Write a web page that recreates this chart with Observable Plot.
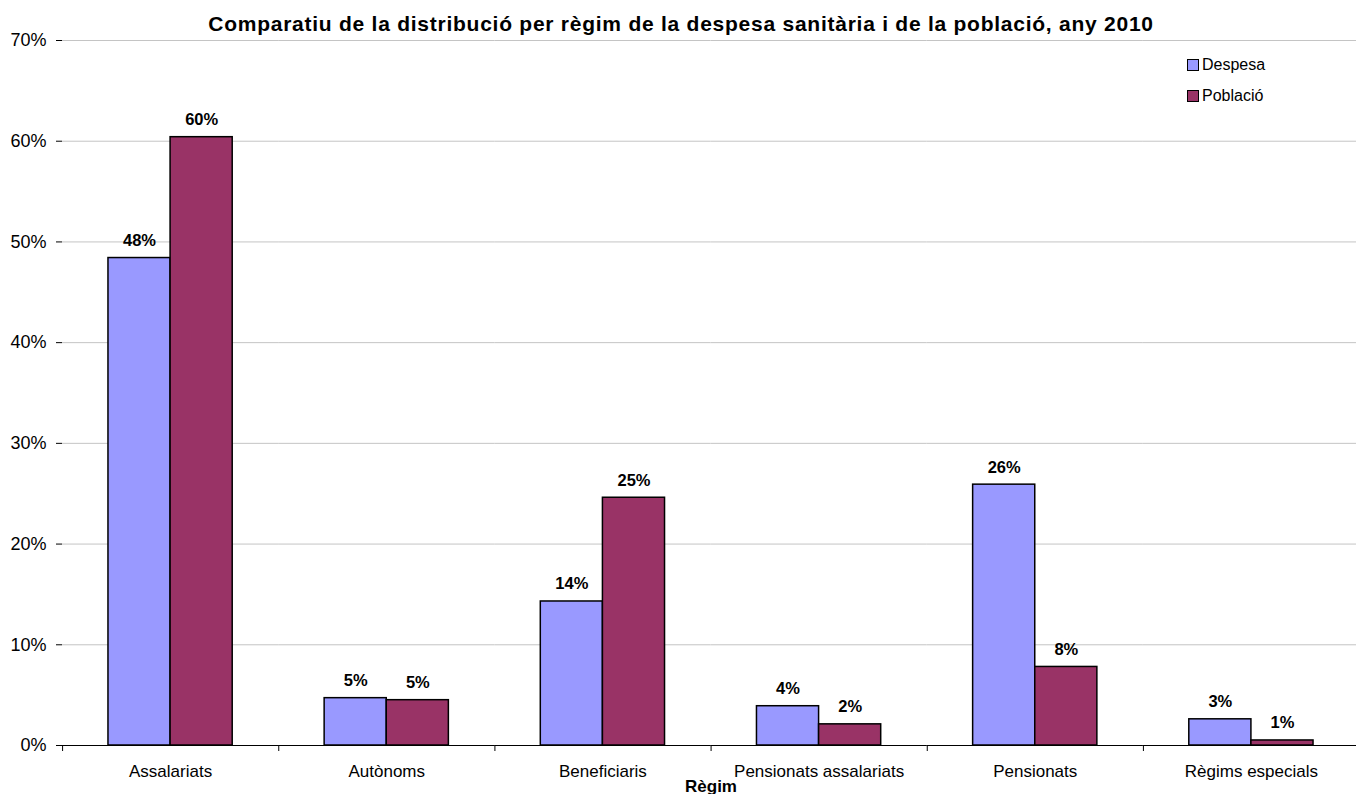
<!DOCTYPE html>
<html>
<head>
<meta charset="utf-8">
<script src="https://cdn.jsdelivr.net/npm/d3@7"></script>
<script src="https://cdn.jsdelivr.net/npm/@observablehq/plot@0.6"></script>
<style>
  html, body { margin: 0; padding: 0; background: #fff; }
  #wrap { position: relative; width: 1356px; height: 794px; overflow: hidden; font-family: "Liberation Sans", Arial, sans-serif; color: #000; }
  #title { position: absolute; left: 0; top: 13px; width: 1362px; text-align: center; font-weight: bold; font-size: 21px; line-height: 21px; letter-spacing: 0.75px; white-space: nowrap; }
  .leg { position: absolute; left: 1187px; font-size: 16px; line-height: 16px; white-space: nowrap; }
  .sw { position: absolute; left: 0; width: 10px; height: 10px; border: 1.5px solid #000; }
  .lt { position: absolute; left: 15px; top: 0; }
  #wrap svg { position: absolute; left: 0; top: 0; }
  svg [aria-label="fx-axis label"] { font-weight: bold; }
</style>
</head>
<body>
<div id="wrap">
  <div id="title">Comparatiu de la distribució per règim de la despesa sanitària i de la població, any 2010</div>
  <div id="legend"></div>
</div>
<script>
const categories = ["Assalariats", "Autònoms", "Beneficiaris", "Pensionats assalariats", "Pensionats", "Règims especials"];
const series = ["Despesa", "Població"];
const despesa = [48.4, 4.7, 14.3, 3.9, 25.9, 2.6];
const poblacio = [60.4, 4.5, 24.6, 2.1, 7.8, 0.5];
const yTicks = [0, 10, 20, 30, 40, 50, 60, 70];
const colors = ["#9999FF", "#993366"];

const data = categories.flatMap((c, i) => [
  {regim: c, serie: series[0], value: despesa[i]},
  {regim: c, serie: series[1], value: poblacio[i]}
]);

const chart = Plot.plot({
  width: 1356,
  height: 794,
  marginTop: 40,
  marginBottom: 49,
  marginLeft: 62,
  marginRight: -3,
  style: {fontFamily: "'Liberation Sans', Arial, sans-serif", fontSize: "16px", color: "#000", background: "transparent", overflow: "visible"},
  fx: {domain: categories, padding: 0, label: null, round: false},
  x: {domain: series, axis: null, paddingInner: 0, paddingOuter: 0.74, round: false},
  y: {domain: [0, 70], axis: null},
  color: {domain: series, range: colors},
  marks: [
    Plot.gridY(yTicks, {stroke: "#c4c4c4", strokeOpacity: 1}),
    Plot.axisY(yTicks, {tickSize: 6, tickPadding: 10, tickFormat: d => d + "%", fontSize: 18, line: true, label: null, stroke: "#000"}),
    Plot.barY(data, {fx: "regim", x: "serie", y: "value", fill: "serie", stroke: "#000", strokeWidth: 1.5}),
    Plot.ruleY([0], {stroke: "#000"}),
    Plot.text(data, {fx: "regim", x: "serie", y: "value", text: d => Math.round(d.value) + "%", lineAnchor: "bottom", dy: -12, fontWeight: "bold", fontSize: 16.5}),
    Plot.axisFx({anchor: "bottom", tickSize: 0, tickPadding: 19, fontSize: 17, label: "Règim", labelAnchor: "center", labelOffset: 46}),
    Plot.axisFx({anchor: "bottom", tickSize: 6, dx: -108, tickFormat: () => "", label: null, stroke: "#000"})
  ]
});
document.getElementById("wrap").appendChild(chart);

const legend = document.getElementById("legend");
series.forEach((s, i) => {
  const row = document.createElement("div");
  row.className = "leg";
  row.style.top = (57 + i * 31) + "px";
  row.innerHTML = `<span class="sw" style="background:${colors[i]};top:2px"></span><span class="lt">${s}</span>`;
  legend.appendChild(row);
});
</script>
</body>
</html>
